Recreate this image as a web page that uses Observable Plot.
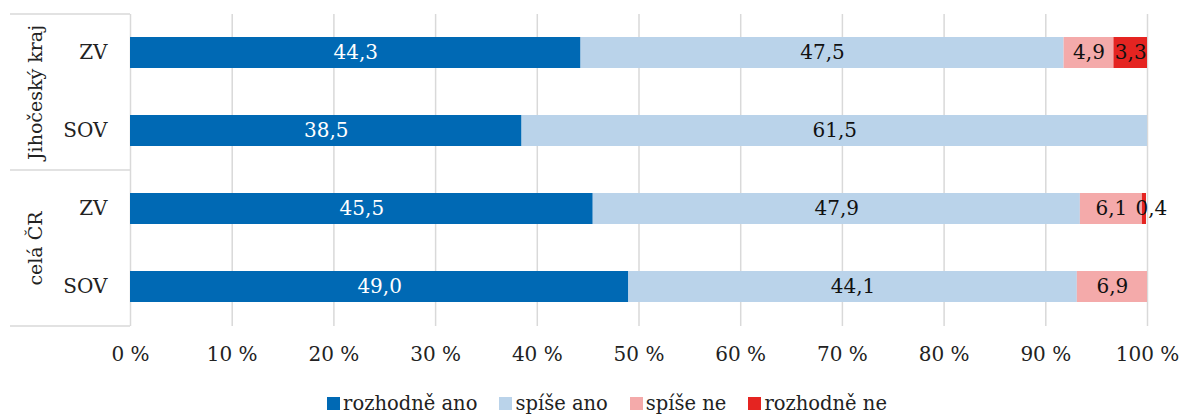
<!DOCTYPE html>
<html>
<head>
<meta charset="utf-8">
<script src="https://cdn.jsdelivr.net/npm/d3@7"></script>
<script src="https://cdn.jsdelivr.net/npm/@observablehq/plot@0.6"></script>
<style>
  body { margin: 0; background: #fff; font-family: "DejaVu Serif", serif; }
  #chart { width: 1180px; }
  .legend { display: flex; justify-content: center; gap: 22px; padding-left: 34px; margin-top: 16px; font-size: 19.5px; color: #222; }
  .legend .item { display: flex; align-items: center; }
  .legend .sw { width: 13px; height: 13px; margin-right: 3px; display: inline-block; }
</style>
</head>
<body>
<div id="chart"></div>
<script>
const groups = ["Jihočeský kraj", "Jihočeský kraj", "celá ČR", "celá ČR"];
const types = ["ZV", "SOV", "ZV", "SOV"];
const seriesNames = ["rozhodně ano", "spíše ano", "spíše ne", "rozhodně ne"];
const seriesColors = ["#0069B4", "#BAD3EA", "#F4AAAA", "#E52421"];
const rozhodneAno = [44.3, 38.5, 45.5, 49.0];
const spiseAno = [47.5, 61.5, 47.9, 44.1];
const spiseNe = [4.9, 0, 6.1, 6.9];
const rozhodneNe = [3.3, 0, 0.4, 0];
const xTicks = [0, 10, 20, 30, 40, 50, 60, 70, 80, 90, 100];

const seriesValues = [rozhodneAno, spiseAno, spiseNe, rozhodneNe];
const rows = [];
seriesNames.forEach((s, si) => {
  groups.forEach((g, i) => {
    rows.push({group: g, type: types[i], series: s, value: seriesValues[si][i]});
  });
});
const groupList = Array.from(new Set(groups));
const fmt = v => v.toFixed(1).replace(".", ",");
// labels: empty text for zero segments keeps the stacking identical to the bars
const labelText = d => d.value > 0 ? fmt(d.value) : "";
const smallText = d => d.value > 0 && d.value < 1 ? fmt(d.value) : "";
const normalText = d => d.value >= 1 ? fmt(d.value) : "";

const plot = Plot.plot({
  width: 1180,
  height: 376,
  marginLeft: 130,
  marginRight: 33,
  marginTop: 14,
  marginBottom: 50,
  style: {fontFamily: "'DejaVu Serif', serif", fontSize: "20px", color: "#222"},
  x: {domain: [0, 100], ticks: xTicks, tickFormat: d => d + " %", tickSize: 0, tickPadding: 20, label: null},
  y: {domain: ["ZV", "SOV"], paddingInner: 0.6, paddingOuter: 0.3, tickSize: 0, tickPadding: 23, label: null},
  fy: {domain: groupList, padding: 0, axis: null, label: null},
  color: {domain: seriesNames, range: seriesColors},
  marks: [
    Plot.gridX(xTicks, {stroke: "#d9d9d9", strokeOpacity: 1, strokeWidth: 1.5}),
    Plot.barX(rows, Plot.stackX({x: "value", y: "type", fy: "group", fill: "series", z: "series", order: null})),
    Plot.text(rows, Plot.stackX({
      x: "value", y: "type", fy: "group", z: "series", order: null,
      text: normalText,
      fill: d => d.series === seriesNames[0] ? "#fff" : "#111"
    })),
    Plot.text(rows, Plot.stackX({
      x: "value", y: "type", fy: "group", z: "series", order: null,
      text: smallText, dx: 7, fill: "#111"
    })),
    Plot.text(groupList, {fy: d => d, text: d => d, frameAnchor: "left", textAnchor: "middle", dx: -95, rotate: -90, fontSize: 19, fill: "#222"})
  ]
});

document.getElementById("chart").appendChild(plot);

// separator lines of the category table in the left margin, positioned from the fy scale
const fy = plot.scale("fy");
const svg = d3.select(plot);
const ys = groupList.map(g => fy.apply(g));
ys.push(fy.apply(groupList[groupList.length - 1]) + fy.bandwidth);
ys.forEach(y => {
  svg.append("line").attr("x1", 10).attr("x2", 130).attr("y1", y).attr("y2", y)
    .attr("stroke", "#d9d9d9").attr("stroke-width", 1.5);
});

const legend = d3.select("body").append("div").attr("class", "legend");
seriesNames.forEach((s, i) => {
  const it = legend.append("div").attr("class", "item");
  it.append("span").attr("class", "sw").style("background", seriesColors[i]);
  it.append("span").text(s);
});
</script>
</body>
</html>
